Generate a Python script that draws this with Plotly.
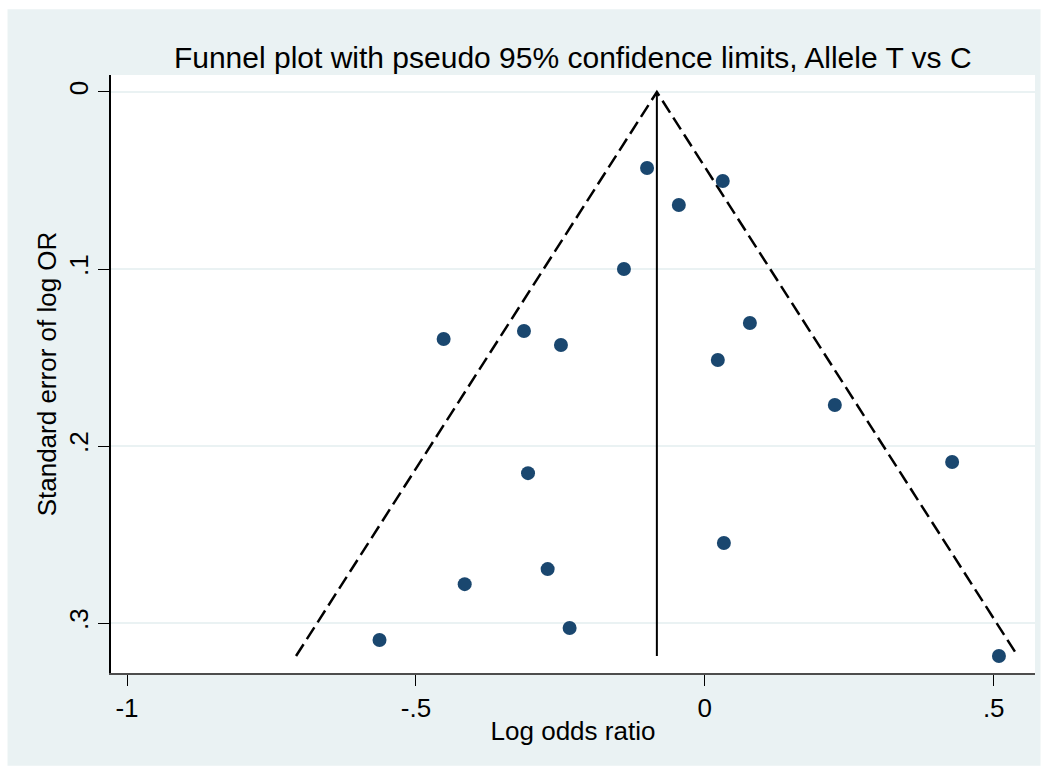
import plotly.graph_objects as go

# Study data: log odds ratio and its standard error
log_or = [-0.100, 0.031, -0.045, -0.140, 0.078, -0.452, -0.313, -0.249, 0.0225,
          0.225, 0.428, -0.306, 0.033, -0.272, -0.4156, -0.234, -0.563, 0.509]
se_log_or = [0.0429, 0.0503, 0.0638, 0.100, 0.1305, 0.1395, 0.135, 0.1429, 0.1514,
             0.1768, 0.209, 0.2153, 0.2548, 0.2695, 0.278, 0.3028, 0.3096, 0.3186]
pooled = -0.083

x_tickvals = [-1, -0.5, 0, 0.5]
x_ticktext = ["-1", "-.5", "0", ".5"]
y_tickvals = [0, 0.1, 0.2, 0.3]
y_ticktext = ["0", ".1", ".2", ".3"]

max_se = max(se_log_or)
z = 1.96

FONT = "Liberation Sans, Arial, sans-serif"
NAVY = "#1a476f"
BG = "#eaf2f3"

fig = go.Figure()

# pseudo 95% CI limits
fig.add_trace(go.Scatter(
    x=[pooled - z * max_se, pooled, pooled + z * max_se],
    y=[max_se, 0, max_se],
    mode="lines", line=dict(color="black", width=2.5, dash="14px,6px"),
    showlegend=False, hoverinfo="skip"))
# pooled estimate
fig.add_trace(go.Scatter(
    x=[pooled, pooled], y=[0, max_se],
    mode="lines", line=dict(color="black", width=2),
    showlegend=False, hoverinfo="skip"))
# studies
fig.add_trace(go.Scatter(
    x=log_or, y=se_log_or, mode="markers",
    marker=dict(color=NAVY, size=14),
    showlegend=False))

# outer graph region and white plot region
fig.add_shape(type="rect", xref="paper", yref="paper",
              x0=-0.112, x1=1.006, y0=-0.155, y1=1.11,
              fillcolor=BG, line=dict(width=0), layer="below")
fig.add_shape(type="rect", xref="paper", yref="paper",
              x0=0, x1=1, y0=0, y1=1,
              fillcolor="white", line=dict(width=0), layer="below")

fig.update_layout(
    width=1048, height=772,
    margin=dict(l=111, r=13, t=75, b=99),
    paper_bgcolor="white", plot_bgcolor="white",
    font=dict(family=FONT, size=26, color="black"),
    title=dict(text="Funnel plot with pseudo 95% confidence limits, Allele T vs C",
               x=0.5465, xanchor="center",
               y=1 - 57 / 772, yanchor="middle",
               font=dict(family=FONT, size=30, color="black")),
    xaxis=dict(range=[-1.0277, 0.5714], tickvals=x_tickvals, ticktext=x_ticktext,
               showgrid=False, zeroline=False, showline=True, linecolor="#4d4d4d",
               linewidth=2, ticks="outside", ticklen=11, tickcolor="black", tickwidth=1,
               tickfont=dict(size=26),
               title=dict(text="Log odds ratio", font=dict(size=26), standoff=0)),
    yaxis=dict(range=[0.3282, -0.0096], tickvals=y_tickvals, ticktext=y_ticktext,
               showgrid=True, gridcolor=BG, gridwidth=2, zeroline=False,
               showline=True, linecolor="black", linewidth=1.5,
               ticks="outside", ticklen=11, tickcolor="black", tickwidth=1,
               tickangle=-90, tickfont=dict(size=26),
               title=dict(text="Standard error of log OR", font=dict(size=26), standoff=0)),
)

fig.write_html("out.html")
